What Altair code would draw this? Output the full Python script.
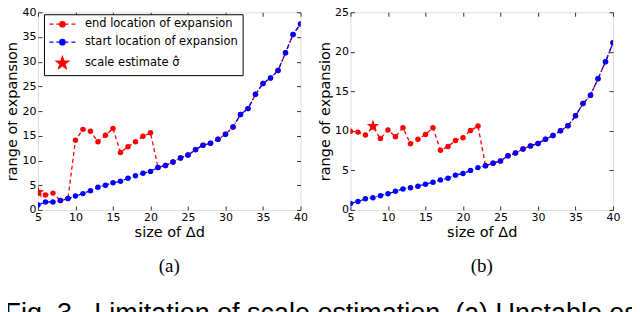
import altair as alt
import pandas as pd

# ---------------- data ----------------
X = list(range(5, 41))

a_start = [1.0, 1.6, 1.6, 1.9, 2.3, 2.8, 3.3, 3.9, 4.6, 5.0, 5.5, 5.8, 6.4, 6.9, 7.4, 7.8,
           8.6, 9.0, 9.7, 10.5, 11.1, 12.2, 13.1, 13.5, 14.3, 15.3, 16.8, 19.3, 20.5, 23.4,
           25.6, 26.7, 28.2, 31.8, 35.5, 37.6]
a_end = [3.4, 3.0, 3.4, 1.9, 2.3, 14.1, 16.3, 15.9, 13.8, 15.1, 16.5, 11.6, 12.8, 13.8, 14.9, 15.6,
         8.6, 9.0, 9.7, 10.5, 11.1, 12.2, 13.1, 13.5, 14.3, 15.3, 16.8, 19.3, 20.5, 23.4,
         25.6, 26.7, 28.2, 31.8, 35.5, 37.6]
a_star = [5, 3.6]

b_start = [0.8, 1.07, 1.4, 1.55, 1.8, 2.05, 2.35, 2.65, 2.8, 3.0, 3.25, 3.5, 3.8, 4.0, 4.4, 4.6,
           5.0, 5.35, 5.6, 5.9, 6.2, 6.85, 7.2, 7.7, 8.1, 8.4, 8.95, 9.4, 10.0, 10.65,
           11.9, 13.45, 14.5, 16.6, 18.75, 21.15]
b_end = [9.96, 9.84, 9.47, 10.5, 9.02, 10.1, 9.26, 10.4, 8.36, 8.93, 9.55, 10.4, 7.54, 8.03, 8.77, 9.14,
         10.04, 10.6, 5.6, 5.9, 6.2, 6.85, 7.2, 7.7, 8.1, 8.4, 8.95, 9.4, 10.0, 10.65,
         11.9, 13.45, 14.5, 16.6, 18.75, 21.15]
b_star = [8, 10.6]

x_ticks = [5, 10, 15, 20, 25, 30, 35, 40]
a_y_ticks = [0, 5, 10, 15, 20, 25, 30, 35, 40]
b_y_ticks = [0, 5, 10, 15, 20, 25]

END = "end location of expansion"
START = "start location of expansion"
STAR = "scale estimate \u03c3\u0302"
series_names = [END, START, STAR]
panel_tags = ["(a)", "(b)"]
x_title = "size of \u0394d"
y_title = "range of expansion"
CAPTION = "Fig. 3.\u00a0\u00a0Limitation of scale estimation. (a) Unstable es-"

# ---------------- styling ----------------
RED = "#ff0000"
BLUE = "#0000ff"
FRAME = "#777777"
FONT = "DejaVu Sans"

# legend handle: dashed line with a dot, drawn to the right of the nominal symbol centre
LEG_LINE = ("M-0.9,0H-0.1M0.5,0H1.15M2.25,0H2.9M3.5,0H4.3"
            "M2.25,0A0.55,0.55,0,1,1,1.15,0A0.55,0.55,0,1,1,2.25,0Z")
LEG_STAR = ("M1.7,-1.3L2.006,-0.421L2.936,-0.402L2.195,0.161L2.464,1.052L1.7,0.52"
            "L0.936,1.052L1.205,0.161L0.464,-0.402L1.394,-0.421Z")
STAR_SYM = ("M0,-1.3L0.306,-0.421L1.236,-0.402L0.495,0.161L0.764,1.052L0,0.52"
            "L-0.764,1.052L-0.495,0.161L-1.236,-0.402L-0.306,-0.421Z")

color_scale = alt.Scale(domain=series_names, range=[RED, BLUE, RED])

IS_START = "datum.value === '" + START + "'"
IS_STAR = "datum.value === '" + STAR + "'"


def make_legend():
    return alt.Legend(
        title=None, orient="none", legendX=6, legendY=2, padding=4,
        fillColor="white", strokeColor="black",
        labelFont=FONT, labelFontSize=11.5, labelColor="black",
        symbolSize=100, symbolOffset=0, labelOffset=25, rowPadding=6,
        symbolType=alt.ExprRef(expr=IS_STAR + " ? '" + LEG_STAR + "' : '" + LEG_LINE + "'"),
        symbolFillColor=alt.ExprRef(expr=IS_START + " ? '" + BLUE + "' : '" + RED + "'"),
        symbolStrokeColor=alt.ExprRef(expr=IS_START + " ? '" + BLUE + "' : '" + RED + "'"),
        symbolStrokeWidth=1.2, symbolOpacity=1,
    )


def axis(orient, values, labels=True, title=None):
    kw = dict(orient=orient, values=values, offset=-4, tickSize=4, tickColor="#333",
              domain=False, grid=False, labels=labels, ticks=True)
    if labels:
        kw.update(labelFont=FONT, labelFontSize=11, labelColor="black",
                  labelPadding=2, labelFlush=False, labelOverlap=False)
    if title is not None:
        kw.update(title=title, titleFont=FONT, titleFontSize=14.5, titleColor="black",
                  titleFontWeight="normal", titlePadding=2 if orient == "left" else 3)
    else:
        kw.update(title=None)
    return alt.Axis(**kw)


def panel(start, end, star, y_max, y_ticks, width, tag):
    n = len(X)
    df = pd.DataFrame({"x": X + X, "y": end + start, "series": [END] * n + [START] * n})
    sdf = pd.DataFrame({"x": [star[0]], "y": [star[1]], "series": [STAR]})
    xs = alt.Scale(domain=[5, 40], nice=False, zero=False)
    ys = alt.Scale(domain=[0, y_max], nice=False, zero=False)
    color = alt.Color("series:N", scale=color_scale, legend=make_legend())
    base = alt.Chart(df)
    end_df = base.transform_filter(alt.datum.series == END)
    start_df = base.transform_filter(alt.datum.series == START)

    end_line = end_df.mark_line(color=RED, strokeDash=[4, 3], strokeWidth=1.3, clip=True).encode(
        x=alt.X("x:Q", scale=xs, axis=axis("bottom", x_ticks, title=x_title)),
        y=alt.Y("y:Q", scale=ys, axis=axis("left", y_ticks, title=y_title)),
    )
    end_pts = end_df.mark_point(filled=True, shape="circle", size=30, opacity=1, clip=True).encode(
        x=alt.X("x:Q", scale=xs, axis=axis("top", x_ticks, labels=False)),
        y=alt.Y("y:Q", scale=ys, axis=axis("right", y_ticks, labels=False)),
        color=color,
    )
    start_line = start_df.mark_line(color=BLUE, strokeDash=[5, 2, 1, 2], strokeWidth=1.3, clip=True).encode(
        x=alt.X("x:Q", scale=xs, axis=None),
        y=alt.Y("y:Q", scale=ys, axis=None),
    )
    start_pts = start_df.mark_point(filled=True, shape="circle", size=30, opacity=1, clip=True).encode(
        x=alt.X("x:Q", scale=xs, axis=None),
        y=alt.Y("y:Q", scale=ys, axis=None),
        color=color,
    )
    star_mark = alt.Chart(sdf).mark_point(filled=True, shape=STAR_SYM, size=100, opacity=1, clip=True).encode(
        x=alt.X("x:Q", scale=xs, axis=None),
        y=alt.Y("y:Q", scale=ys, axis=None),
        color=color,
    )
    return alt.layer(end_line, end_pts, start_line, start_pts, star_mark).resolve_axis(
        x="independent", y="independent"
    ).properties(
        width=width, height=198,
        title=alt.TitleParams(tag, orient="bottom", font="Liberation Serif", fontSize=19,
                              fontWeight="normal", color="black", offset=18, anchor="middle"),
    )


pa = panel(a_start, a_end, a_star, 40, a_y_ticks, 263, panel_tags[0])
pb = panel(b_start, b_end, b_star, 25, b_y_ticks, 263, panel_tags[1])

chart = alt.hconcat(pa, pb, spacing=8).properties(
    title=alt.TitleParams(CAPTION, orient="bottom", anchor="start", font="Liberation Sans",
                          fontSize=27, fontWeight="normal", color="black", offset=24),
    padding={"left": -4, "top": -3, "right": -16, "bottom": -8},
).configure_view(stroke=FRAME, strokeWidth=1).configure(background="white")

chart.save("out.html", embed_options={"renderer": "svg", "actions": False})
